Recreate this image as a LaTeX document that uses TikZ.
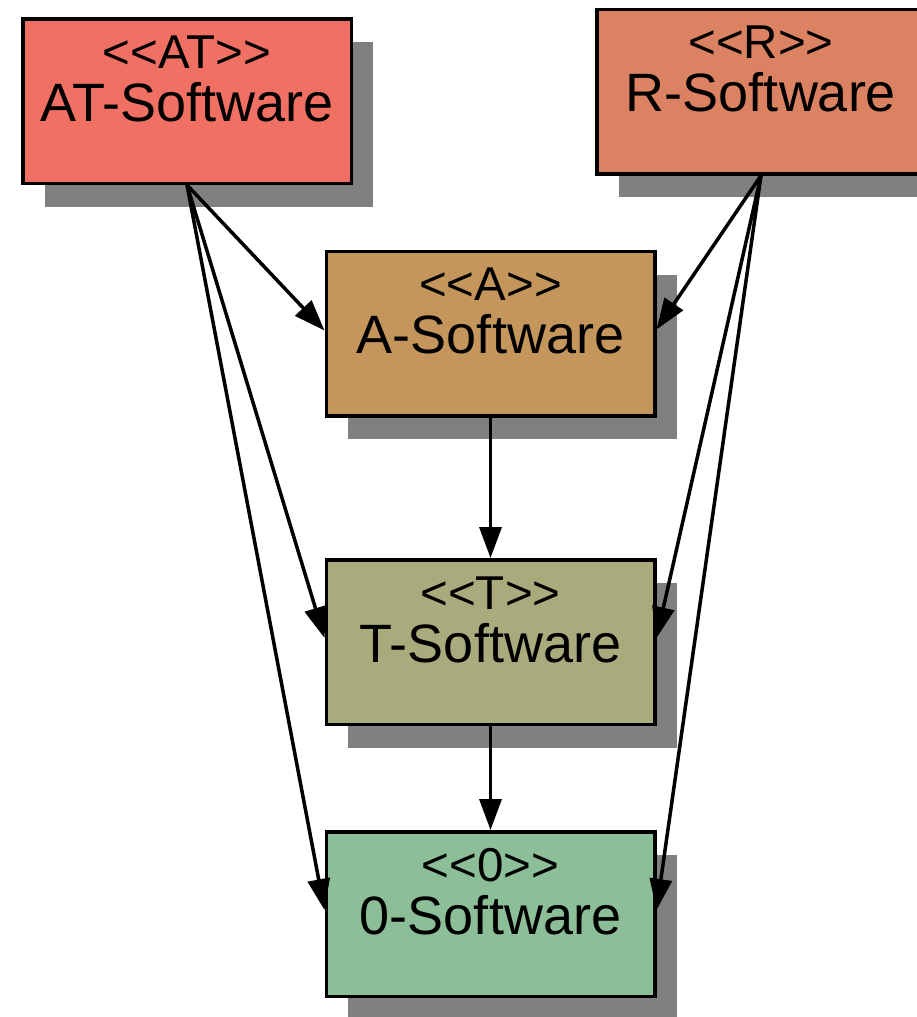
\documentclass[tikz,border=0pt]{standalone}
\usepackage{fontspec}
\setmainfont{Liberation Sans}
\usetikzlibrary{arrows.meta,shadows,calc}
\definecolor{atc}{HTML}{F07063}
\definecolor{rc}{HTML}{DB8263}
\definecolor{ac}{HTML}{C4965C}
\definecolor{tc}{HTML}{A9AB7D}
\definecolor{zc}{HTML}{8CBF98}
\definecolor{shc}{HTML}{808080}
\begin{document}
\begin{tikzpicture}[x=1pt,y=-1pt,
  box/.style={draw=black, line width=3.5pt, rectangle, inner sep=0pt,
    minimum width=328.5pt, minimum height=164.5pt,
    drop shadow={shadow xshift=22pt, shadow yshift=-23.5pt, fill=shc, opacity=1}},
  stereo/.style={anchor=base, inner sep=0pt, font=\fontsize{47.5}{55}\selectfont},
  title/.style={anchor=base, inner sep=0pt, font=\fontsize{54}{60}\selectfont},
  conn/.style={line width=3.5pt, -{Triangle[length=31pt,width=22pt]}}]
\useasboundingbox (0,0) rectangle (916,1017);
\node[box, fill=atc] (at) at (187,101) {};
\node[box, fill=rc] (r) at (761,91.5) {};
\node[box, fill=ac] (a) at (490.5,333.5) {};
\node[box, fill=tc] (t) at (490.5,642) {};
\node[box, fill=zc] (z) at (490.5,914) {};
\foreach \n/\s/\l in {at/AT/AT-Software, r/R/R-Software, a/A/A-Software, t/T/T-Software, z/0/0-Software}{
  \node[stereo] (\n s) at ($(\n.center)+(0,-33)$) {<{}<\s>{}>};
  \node[title] (\n l) at ($(\n.center)+(0,20)$) {\l};
}
\draw[conn] (at.south) -- ($(a.west)+(0,-3)$);
\draw[conn] (at.south) -- ($(t.west)+(0,-4)$);
\draw[conn] (at.south) -- ($(z.west)+(0,-4)$);
\draw[conn] (r.south) -- ($(a.east)+(0,-4)$);
\draw[conn] (r.south) -- ($(t.east)+(0,-4)$);
\draw[conn] (r.south) -- ($(z.east)+(0,-4)$);
\draw[conn] (a.south) -- (t.north);
\draw[conn] (t.south) -- (z.north);
\end{tikzpicture}
\end{document}
